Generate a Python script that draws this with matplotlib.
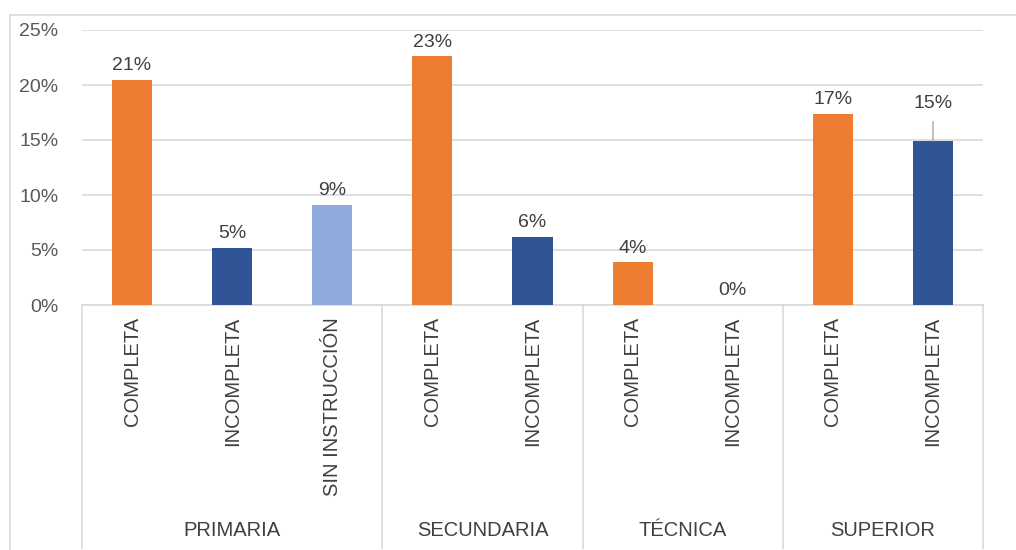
import matplotlib
matplotlib.use("Agg")
import matplotlib.pyplot as plt
from matplotlib.lines import Line2D
from matplotlib.transforms import blended_transform_factory
from matplotlib.ticker import PercentFormatter

# ---- data ----
groups = ["PRIMARIA", "SECUNDARIA", "TÉCNICA", "SUPERIOR"]
group_sizes = [3, 2, 2, 2]
subcategories = ["COMPLETA", "INCOMPLETA", "SIN INSTRUCCIÓN",
                 "COMPLETA", "INCOMPLETA",
                 "COMPLETA", "INCOMPLETA",
                 "COMPLETA", "INCOMPLETA"]
values = [20.5, 5.2, 9.1, 22.6, 6.2, 3.9, 0.0, 17.4, 14.9]
value_labels = ["21%", "5%", "9%", "23%", "6%", "4%", "0%", "17%", "15%"]
y_ticks = [0, 5, 10, 15, 20, 25]

ORANGE = "#ED7D31"
DARK = "#2F5597"
LIGHT = "#8FAADC"
bar_colors = [ORANGE, DARK, LIGHT, ORANGE, DARK, ORANGE, DARK, ORANGE, DARK]

plt.rcParams['font.family'] = ['Liberation Sans', 'DejaVu Sans']

W, H = 1016, 550
fig = plt.figure(figsize=(W / 100, H / 100), dpi=100)
ax = fig.add_axes([82 / W, 1 - 305 / H, (983 - 82) / W, (305 - 30) / H])

x = list(range(len(values)))
ax.bar(x, values, width=0.4, color=bar_colors, zorder=3)

ax.set_xlim(-0.5, len(values) - 0.5)
ax.set_ylim(0, 25)
ax.set_yticks(y_ticks)
ax.yaxis.set_major_formatter(PercentFormatter(decimals=0))
ax.tick_params(axis='y', length=0, labelsize=14, labelcolor="#595959", pad=17)
ax.tick_params(axis='x', length=0, labelbottom=False)
ax.grid(axis='y', color="#D9D9D9", linewidth=1.2, zorder=0)
for s in ["top", "right", "left"]:
    ax.spines[s].set_visible(False)
ax.spines["bottom"].set_color("#D9D9D9")
ax.spines["bottom"].set_linewidth(1.2)

# data labels
for i, (v, t) in enumerate(zip(values, value_labels)):
    off = 4
    if i == 8:
        off = 21
        ax.annotate("", xy=(i, v), xytext=(0, 14), textcoords="offset points",
                    arrowprops=dict(arrowstyle="-", color="#A6A6A6", lw=1.0,
                                    shrinkA=0, shrinkB=0))
    ax.annotate(t, xy=(i, v), xytext=(0, off), textcoords="offset points",
                ha="center", va="bottom", fontsize=14, color="#404040")

# category labels (rotated) and group labels
tr_x = blended_transform_factory(ax.transData, fig.transFigure)
for i, s in enumerate(subcategories):
    ax.text(i, 1 - 317 / H, s, transform=tr_x, rotation=90, ha="center", va="top",
            fontsize=14.5, color="#404040")

start = 0
bounds = [-0.5]
for g, n in zip(groups, group_sizes):
    center = start + (n - 1) / 2
    ax.text(center, 1 - 530 / H, g, transform=tr_x, ha="center", va="center",
            fontsize=14.5, color="#404040")
    start += n
    bounds.append(start - 0.5)

for b in bounds:
    fig.add_artist(Line2D([b, b], [1 - 305 / H, 1 - 548 / H], transform=tr_x,
                          color="#D9D9D9", lw=1.2))

# chart outer border (partially visible)
fig.add_artist(Line2D([10 / W, 10 / W], [0, 1 - 15 / H], transform=fig.transFigure,
                      color="#D9D9D9", lw=1.2))
fig.add_artist(Line2D([10 / W, 1], [1 - 15 / H, 1 - 15 / H], transform=fig.transFigure,
                      color="#D9D9D9", lw=1.2))

fig.savefig("out.png", dpi=100)
